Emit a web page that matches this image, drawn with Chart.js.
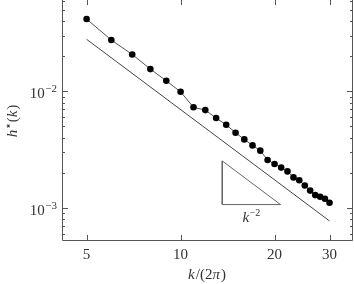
<!DOCTYPE html>
<html>
<head>
<meta charset="utf-8">
<script src="https://cdn.jsdelivr.net/npm/chart.js@4.4.0/dist/chart.umd.min.js"></script>
<style>
  html, body { margin: 0; padding: 0; background: #fff; }
  #wrap { width: 354px; height: 284px; }
</style>
</head>
<body>
<div id="wrap"><canvas id="c" width="354" height="284"></canvas></div>
<script>
// データ
const kValues = [5, 6, 7, 8, 9, 10, 11, 12, 13, 14, 15, 16, 17, 18, 19, 20, 21, 22, 23, 24, 25, 26, 27, 28, 29, 30];
const hValues = [0.0416, 0.0275, 0.0207, 0.0155, 0.0123, 0.0099, 0.0073, 0.0069, 0.0059, 0.00517, 0.00442, 0.00387,
                 0.00344, 0.00310, 0.00258, 0.00238, 0.00222, 0.00206, 0.00183, 0.00173, 0.00156, 0.00141,
                 0.00129, 0.00125, 0.00120, 0.00111];
// 参照線 C/k^2
const refK = [5, 30];
const refH = [0.0279, 0.000775];
// 傾き三角形
const triK = [13.6, 13.6, 20.9, 13.6];
const triH = [0.00253, 0.00107, 0.00107, 0.00253];
// 目盛り
const xTicks = [5, 10, 20, 30];
const yTicks = [0.001, 0.01];
const yMinorTicks = [6e-4, 7e-4, 8e-4, 9e-4, 2e-3, 3e-3, 4e-3, 5e-3, 6e-3, 7e-3, 8e-3, 9e-3, 2e-2, 3e-2, 4e-2, 5e-2, 6e-2];

const serif = '"Liberation Serif", "DejaVu Serif", serif';
const axisColor = '#555';

function toXY(xs, ys) {
    return xs.map((x, i) => ({ x: x, y: ys[i] }));
}

// 数式風のテキストを描く（部品ごとにフォントを切り替え）
function drawParts(ctx, parts, x, y, align) {
    let total = 0;
    parts.forEach(p => { ctx.font = p.font; total += ctx.measureText(p.t).width + (p.gap || 0); });
    let cx = align === 'center' ? x - total / 2 : (align === 'right' ? x - total : x);
    ctx.textAlign = 'left';
    ctx.textBaseline = 'alphabetic';
    parts.forEach(p => {
        ctx.font = p.font;
        ctx.fillText(p.t, cx, y + (p.dy || 0));
        cx += ctx.measureText(p.t).width + (p.gap || 0);
    });
}

const pgfPlugin = {
    id: 'pgfAxes',
    afterDraw(chart) {
        const ctx = chart.ctx;
        const a = chart.chartArea;
        const xs = chart.scales.x;
        const ys = chart.scales.y;
        ctx.save();
        ctx.strokeStyle = axisColor;
        ctx.lineWidth = 1;
        // 枠（上は画像の外）
        ctx.beginPath();
        ctx.moveTo(a.left + 0.5, 0);
        ctx.lineTo(a.left + 0.5, a.bottom - 0.5);
        ctx.lineTo(a.right - 0.5, a.bottom - 0.5);
        ctx.lineTo(a.right - 0.5, 0);
        ctx.stroke();
        // 内向きの目盛り
        ctx.beginPath();
        xTicks.forEach(v => {
            const px = Math.round(xs.getPixelForValue(v)) + 0.5;
            ctx.moveTo(px, a.bottom); ctx.lineTo(px, a.bottom - 6);
            ctx.moveTo(px, a.top); ctx.lineTo(px, a.top + 5);
        });
        yTicks.forEach(v => {
            const py = Math.round(ys.getPixelForValue(v)) + 0.5;
            ctx.moveTo(a.left, py); ctx.lineTo(a.left + 6, py);
            ctx.moveTo(a.right, py); ctx.lineTo(a.right - 6, py);
        });
        yMinorTicks.forEach(v => {
            const py = Math.round(ys.getPixelForValue(v)) + 0.5;
            if (py < a.top || py > a.bottom) return;
            ctx.moveTo(a.left, py); ctx.lineTo(a.left + 3, py);
            ctx.moveTo(a.right, py); ctx.lineTo(a.right - 3, py);
        });
        ctx.stroke();

        ctx.fillStyle = '#333';
        // y目盛りラベル 10^-2, 10^-3
        yTicks.forEach(v => {
            const py = ys.getPixelForValue(v);
            const exp = Math.round(Math.log10(v));
            ctx.font = '11px ' + serif;
            ctx.textAlign = 'right';
            ctx.textBaseline = 'alphabetic';
            const sup = '\u2212' + Math.abs(exp);
            ctx.fillText(sup, 57, py + 1);
            const sw = ctx.measureText(sup).width;
            ctx.font = '15px ' + serif;
            ctx.fillText('10', 57 - sw - 0.5, py + 7);
        });

        // x軸タイトル k/(2π)
        drawParts(ctx, [
            { t: 'k', font: 'italic 15px ' + serif, gap: 1 },
            { t: '/(2', font: '15px ' + serif },
            { t: 'π', font: 'italic 15px ' + serif, gap: 1 },
            { t: ')', font: '15px ' + serif }
        ], 207, 279, 'center');

        // y軸タイトル h⋆(k)
        ctx.save();
        ctx.translate(17, 121);
        ctx.rotate(-Math.PI / 2);
        drawParts(ctx, [
            { t: 'h', font: 'italic 15px ' + serif },
            { t: '\u22C6', font: '12px "DejaVu Sans", sans-serif', dy: -5 },
            { t: '(', font: '15px ' + serif },
            { t: 'k', font: 'italic 15px ' + serif, gap: 1 },
            { t: ')', font: '15px ' + serif }
        ], 0, 0, 'center');
        ctx.restore();

        // 三角形のラベル k^-2
        const lx = xs.getPixelForValue(Math.sqrt(triK[0] * triK[2]));
        const ly = ys.getPixelForValue(triH[1]);
        drawParts(ctx, [
            { t: 'k', font: 'italic 15px ' + serif, gap: 0.5 },
            { t: '\u22122', font: '10px ' + serif, dy: -6 }
        ], lx, ly + 17, 'center');
        ctx.restore();
    }
};

new Chart(document.getElementById('c'), {
    type: 'line',
    data: {
        datasets: [
            {
                data: toXY(kValues, hValues),
                borderColor: '#555',
                borderWidth: 1,
                pointBackgroundColor: '#000',
                pointBorderColor: '#000',
                pointRadius: 3.3,
                pointBorderWidth: 0,
                tension: 0
            },
            {
                data: toXY(refK, refH),
                borderColor: '#444',
                borderWidth: 1,
                pointRadius: 0,
                tension: 0
            },
            {
                data: toXY(triK, triH),
                borderColor: '#666',
                borderWidth: 1,
                pointRadius: 0,
                tension: 0
            }
        ]
    },
    options: {
        responsive: false,
        animation: false,
        events: [],
        layout: { autoPadding: false, padding: { top: 0, right: 1, left: 0, bottom: 0 } },
        plugins: { legend: { display: false }, tooltip: { enabled: false } },
        scales: {
            x: {
                type: 'logarithmic',
                min: 4.17,
                max: 35.67,
                grid: { display: false, drawTicks: false },
                border: { display: false },
                afterBuildTicks: s => { s.ticks = xTicks.map(v => ({ value: v })); },
                afterFit: s => { s.height = 43; s.paddingLeft = 0; s.paddingRight = 0; },
                ticks: {
                    padding: 5,
                    color: '#333',
                    autoSkip: false,
                    maxRotation: 0,
                    font: { family: serif, size: 15 },
                    callback: v => String(v)
                }
            },
            y: {
                type: 'logarithmic',
                min: 5.215e-4,
                max: 0.0606,
                grid: { display: false, drawTicks: false },
                border: { display: false },
                afterBuildTicks: s => { s.ticks = yTicks.map(v => ({ value: v })); },
                afterFit: s => { s.width = 62; s.paddingTop = 0; s.paddingBottom = 0; },
                ticks: { display: false }
            }
        }
    },
    plugins: [pgfPlugin]
});
</script>
</body>
</html>
